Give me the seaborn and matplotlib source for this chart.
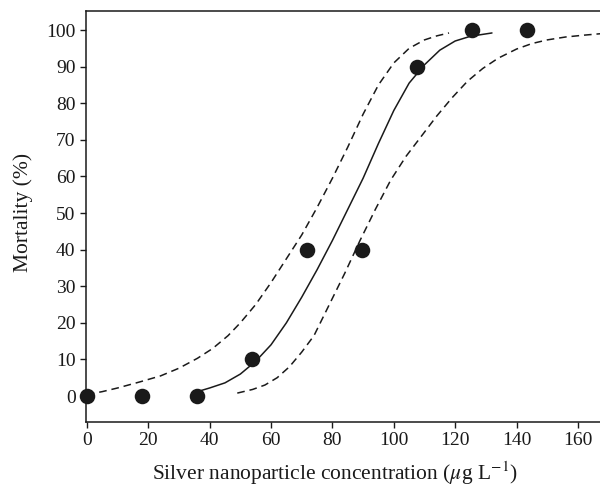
import numpy as np
import pandas as pd
import matplotlib as mpl
mpl.use("Agg")
import matplotlib.pyplot as plt
import seaborn as sns

# observed mortality
conc = [0, 17.9, 35.8, 53.7, 71.6, 89.6, 107.5, 125.4, 143.3]
mortality = [0, 0, 0, 10, 40, 40, 90, 100, 100]

# fitted curve (solid)
fit_x = [36, 40, 45, 50, 55, 60, 65, 70, 75, 80, 85, 90, 95, 100, 105, 110, 115,
         120, 125, 132]
fit_y = [1.2, 2.2, 3.6, 6, 9.5, 14, 20, 27, 34.5, 42.5, 51, 59.5, 69, 78, 85.5,
         90.5, 94.5, 97, 98.3, 99.2]

# upper confidence limit (dashed)
up_x = [0, 5, 10, 17, 24, 30, 36, 41, 46, 50, 55, 60, 65, 70, 75, 80, 85, 90, 95,
        100, 105, 110, 114, 118]
up_y = [0.4, 1.2, 2.2, 3.8, 5.5, 7.6, 10.3, 13, 16.5, 20, 25, 31, 37.5, 44, 51.5,
        59.5, 68, 77, 85, 91, 95, 97.3, 98.4, 99.2]

# lower confidence limit (dashed)
lo_x = [49, 54, 58, 62, 66, 70, 74, 79, 84, 89, 94, 99, 104, 109, 114, 119, 124,
        129, 134, 140, 145, 150, 156, 162, 167.5]
lo_y = [0.8, 1.8, 3, 5, 8, 12, 16.5, 25, 33.5, 42.5, 51, 59, 65.5, 71, 76.5, 81.5,
        86, 89.5, 92.3, 94.8, 96.3, 97.3, 98.1, 98.6, 99]

sns.set_style("ticks")
plt.rcParams["font.family"] = ["Liberation Serif", "DejaVu Serif"]
plt.rcParams["mathtext.fontset"] = "stix"

fig = plt.figure(figsize=(6, 4.91), dpi=100)
ax = fig.add_axes([0.1433, 0.1405, 0.8567, 0.8371])

ink = "#1a1a1a"
sns.lineplot(x=up_x, y=up_y, ax=ax, color=ink, lw=1.1, linestyle=(0, (5, 3.2)), sort=False)
sns.lineplot(x=lo_x, y=lo_y, ax=ax, color=ink, lw=1.1, linestyle=(0, (5, 3.2)), sort=False)
sns.lineplot(x=fit_x, y=fit_y, ax=ax, color=ink, lw=1.1, sort=False)
sns.scatterplot(x=conc, y=mortality, ax=ax, color=ink, s=125,
                edgecolor=ink, linewidth=0, zorder=5, clip_on=False)

ax.set_xlim(-0.3, 167.2)
ax.set_ylim(-7.1, 105.2)
ax.set_xticks(range(0, 161, 20))
ax.set_yticks(range(0, 101, 10))
ax.tick_params(labelsize=14, length=4, width=1, color=ink, labelcolor=ink)
ax.spines["right"].set_visible(False)
for s in ["left", "bottom", "top"]:
    ax.spines[s].set_linewidth(1.1)
    ax.spines[s].set_color(ink)

ax.set_xlabel(r"Silver nanoparticle concentration ($\mu$g L$^{-1}$)", fontsize=15.5,
              color=ink)
ax.set_ylabel("Mortality (%)", fontsize=15.5, color=ink)
ax.xaxis.set_label_coords(0.484, -0.092)
ax.yaxis.set_label_coords(-0.104, 0.51)

fig.savefig("out.png", dpi=100)
